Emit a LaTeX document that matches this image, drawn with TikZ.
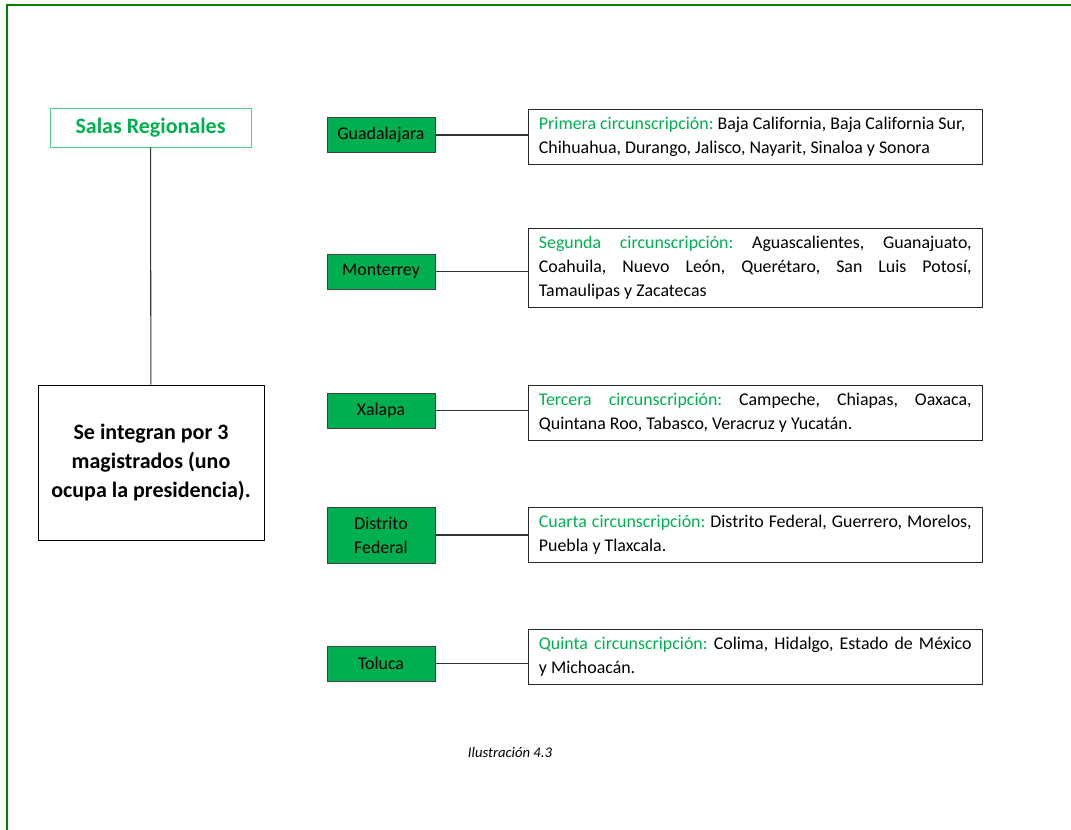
\documentclass[tikz,border=0pt]{standalone}
\usepackage{fontspec}
\setmainfont{Carlito}
\usepackage{xcolor}
\usepackage{tikz}
\usetikzlibrary{positioning}

\definecolor{offgreen}{RGB}{0,176,80}
\definecolor{framegreen}{RGB}{0,128,0}
\frenchspacing

\begin{document}
\begin{tikzpicture}[x=0.75pt, y=-0.75pt,
    sala/.style={draw=black!75, fill=offgreen, minimum width=81pt, minimum height=26.25pt, inner sep=2pt, align=center, font=\fontsize{13.4}{18}\selectfont},
    circ/.style={draw=black!85, anchor=west, text width=324.5pt, inner xsep=8pt, inner ysep=6pt, align=justify, font=\fontsize{13.4}{18}\selectfont},
    conn/.style={draw=black!80, line width=0.8pt},
    verde/.style={text=offgreen}]
            % \useasboundingbox to the size of the page
            \useasboundingbox (0,0) rectangle (1071,830);
            \draw[framegreen, line width=1.6pt] (7,840) -- (7,5) -- (1080,5);

            \node[draw=offgreen!65, minimum width=150.75pt, minimum height=29.25pt, inner sep=2pt, text=offgreen, font=\fontsize{16.5}{20}\selectfont\bfseries] (salas) at (150.5,127.5) {Salas Regionales};
            \node[draw=black, minimum width=169.5pt, minimum height=116.25pt, align=center, font=\fontsize{16.5}{22}\selectfont\bfseries] (integra) at (151,462.5) {Se integran por 3\\magistrados (uno\\ocupa la presidencia).};

            \node[sala] (gdl) at (381,135) {Guadalajara};
            \node[sala] (mty) at (381,271.5) {Monterrey};
            \node[sala] (xal) at (381,410.5) {Xalapa};
            \node[sala, minimum height=42pt] (df) at (381,535) {Distrito\\Federal};
            \node[sala] (tol) at (381,663.5) {Toluca};

            \node[circ] (circ1) at (528,137) {{\color{offgreen}Primera circunscripción:} Baja California, Baja California Sur,\\Chihuahua, Durango, Jalisco, Nayarit, Sinaloa y Sonora};
            \node[circ] (circ2) at (528,267.5) {{\color{offgreen}Segunda circunscripción:} Aguascalientes, Guanajuato,\linebreak Coahuila, Nuevo León, Querétaro, San Luis Potosí,\linebreak Tamaulipas y Zacatecas};
            \node[circ] (circ3) at (528,413) {{\color{offgreen}Tercera circunscripción:} Campeche, Chiapas, Oaxaca,\linebreak Quintana Roo, Tabasco, Veracruz y Yucatán.};
            \node[circ] (circ4) at (528,535) {{\color{offgreen}Cuarta circunscripción:} Distrito Federal, Guerrero, Morelos,\linebreak Puebla y Tlaxcala.};
            \node[circ] (circ5) at (528,657) {{\color{offgreen}Quinta circunscripción:} Colima, Hidalgo, Estado de México\linebreak y Michoacán.};

            \node[font=\fontsize{11}{13}\selectfont\itshape] (ilus) at (510,752) {Ilustración 4.3};

            \path[conn] (salas) -- (integra);
            \path[conn] (gdl.east) -- (gdl -| circ1.west);
            \path[conn] (mty.east) -- (mty -| circ2.west);
            \path[conn] (xal.east) -- (xal -| circ3.west);
            \path[conn] (df.east) -- (df -| circ4.west);
            \path[conn] (tol.east) -- (tol -| circ5.west);
        \end{tikzpicture}
\end{document}
